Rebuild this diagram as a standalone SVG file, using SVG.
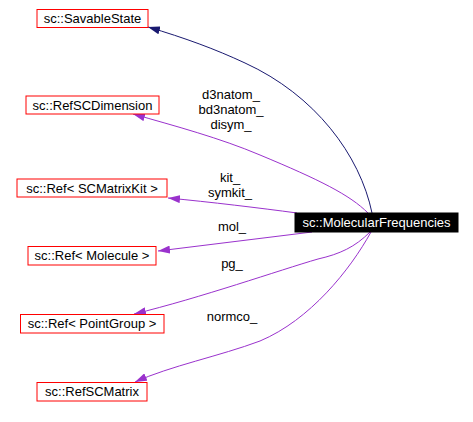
<svg xmlns="http://www.w3.org/2000/svg" width="473" height="422" viewBox="0 0 473 422">
<style>
text{font-family:"Liberation Sans",Arial,sans-serif;font-size:13px;fill:#000;text-anchor:middle}
.box{fill:#fff;stroke:#ff0000;stroke-width:1}
.e{fill:none;stroke:#9a32cd;stroke-width:1}
.n{fill:none;stroke:#191970;stroke-width:1}
</style>
<defs>
<marker id="ap" markerUnits="userSpaceOnUse" markerWidth="13" markerHeight="8" refX="12" refY="4" orient="auto" viewBox="0 0 13 8"><path d="M0,0 L12,4 L0,8 z" fill="#9a32cd"/></marker>
<marker id="an" markerUnits="userSpaceOnUse" markerWidth="13" markerHeight="8" refX="12" refY="4" orient="auto" viewBox="0 0 13 8"><path d="M0,0 L12,4 L0,8 z" fill="#191970"/></marker>
</defs>
<rect width="473" height="422" fill="#fff"/>
<g id="edges">
<path class="n" d="M372,213 C360,155 315,95 245,63 C215,49 185,38 148,27" marker-end="url(#an)"/>
<path class="e" d="M368,213 C350,195 320,180 260,155 C220,138 175,126 133,114" marker-end="url(#ap)"/>
<path class="e" d="M297,213 C260,208 210,202 168,198" marker-end="url(#ap)"/>
<path class="e" d="M312,232 L158,251" marker-end="url(#ap)"/>
<path class="e" d="M370,232 C355,247 340,254 318,259 C280,270 200,298 134,314" marker-end="url(#ap)"/>
<path class="e" d="M371,232 C350,270 310,320 260,341 C220,356 170,366 135,382" marker-end="url(#ap)"/>
<text x="231" y="99">d3natom_</text>
<text x="231" y="114">bd3natom_</text>
<text x="231" y="129">disym_</text>
<text x="230" y="182">kit_</text>
<text x="230" y="197">symkit_</text>
<text x="232" y="231">mol_</text>
<text x="232" y="268">pg_</text>
<text x="232" y="321">normco_</text>
</g>
<g id="node-molfreq"><rect x="295" y="213" width="163" height="19" fill="#000" stroke="#000"/><text x="376.5" y="227" style="fill:#fff">sc::MolecularFrequencies</text></g>
<g id="node-savable"><rect class="box" x="37" y="9.5" width="111" height="18"/><text x="92.5" y="23">sc::SavableState</text></g>
<g id="node-refscdim"><rect class="box" x="26" y="96" width="133" height="18"/><text x="92.5" y="110">sc::RefSCDimension</text></g>
<g id="node-kit"><rect class="box" x="17" y="179" width="150" height="18"/><text x="92" y="193">sc::Ref&lt; SCMatrixKit &gt;</text></g>
<g id="node-molecule"><rect class="box" x="28" y="246.5" width="128" height="18.5"/><text x="92" y="260">sc::Ref&lt; Molecule &gt;</text></g>
<g id="node-pointgroup"><rect class="box" x="20.5" y="314.5" width="143.5" height="18.5"/><text x="92" y="328">sc::Ref&lt; PointGroup &gt;</text></g>
<g id="node-refscmatrix"><rect class="box" x="37" y="382.5" width="110" height="18.5"/><text x="92" y="396">sc::RefSCMatrix</text></g>
</svg>
